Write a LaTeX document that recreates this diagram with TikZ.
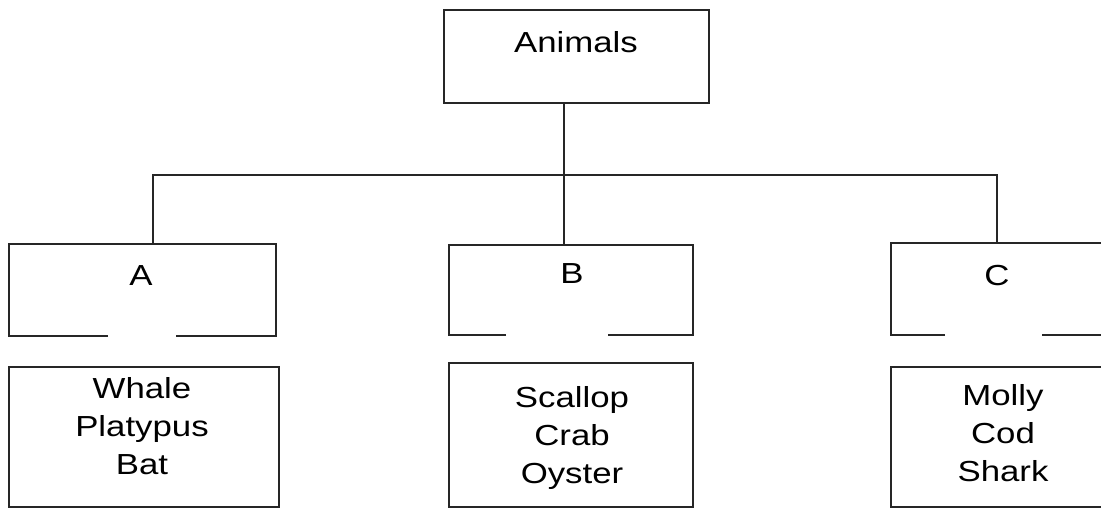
\documentclass[tikz,border=0pt]{standalone}
\usepackage{fontspec}
\newfontfamily\lab[FakeStretch=1.2]{Liberation Sans}
\usetikzlibrary{calc}
\begin{document}
\begin{tikzpicture}[x=1pt,y=-1pt,
  line width=1.2pt,
  box/.style={draw=none,inner sep=0pt,outer sep=0pt},
  txt/.style={font=\lab\fontsize{29}{38}\selectfont,text width=260pt,align=center,anchor=base,inner sep=0pt},
  edge/.style={draw=black!85,line width=1.2pt}]
\useasboundingbox (0,0) rectangle (1101,509);
% boxes (centre, size)
\node[box,draw=black!85,minimum width=265pt,minimum height=93pt] (animals) at (576.5,56.5) {};
\node[box,minimum width=267pt,minimum height=92pt] (A) at (142.5,290) {};
\node[box,minimum width=244pt,minimum height=90pt] (B) at (571,290) {};
\node[box,minimum width=212pt,minimum height=92pt] (C) at (997,289) {};
\node[box,draw=black!85,minimum width=270pt,minimum height=140pt] (Al) at (144,437) {};
\node[box,draw=black!85,minimum width=244pt,minimum height=144pt] (Bl) at (571,435) {};
\node[box,draw=black!85,minimum width=212pt,minimum height=140pt] (Cl) at (997,437) {};
% boxes with an open gap in the bottom edge
\draw[edge] ($(A.south west)+(99,0)$) -- (A.south west) -- (A.north west) -- (A.north east) -- (A.south east) -- ($(A.south east)+(-100,0)$);
\draw[edge] ($(B.south west)+(57,0)$) -- (B.south west) -- (B.north west) -- (B.north east) -- (B.south east) -- ($(B.south east)+(-85,0)$);
\draw[edge] ($(C.south west)+(54,0)$) -- (C.south west) -- (C.north west) -- (C.north east) -- (C.south east) -- ($(C.south east)+(-61,0)$);
% connectors
\coordinate (hub) at (564,175);
\draw[edge] (animals.south -| hub) -- (hub);
\draw[edge] (A.north -| 153,0) |- (hub);
\draw[edge] (hub) -| (C.north);
\draw[edge] (hub) -- (B.north -| hub);
% texts
\node[txt] (tanimals) at (576,52) {Animals};
\node[txt] (ta) at (141,285) {A};
\node[txt] (tb) at (572,283) {B};
\node[txt] (tc) at (997,285) {C};
\node[txt] (tal) at (142,398) {Whale\\Platypus\\Bat};
\node[txt] (tbl) at (572,407) {Scallop\\Crab\\Oyster};
\node[txt] (tcl) at (1003,405) {Molly\\Cod\\Shark};
\end{tikzpicture}
\end{document}
